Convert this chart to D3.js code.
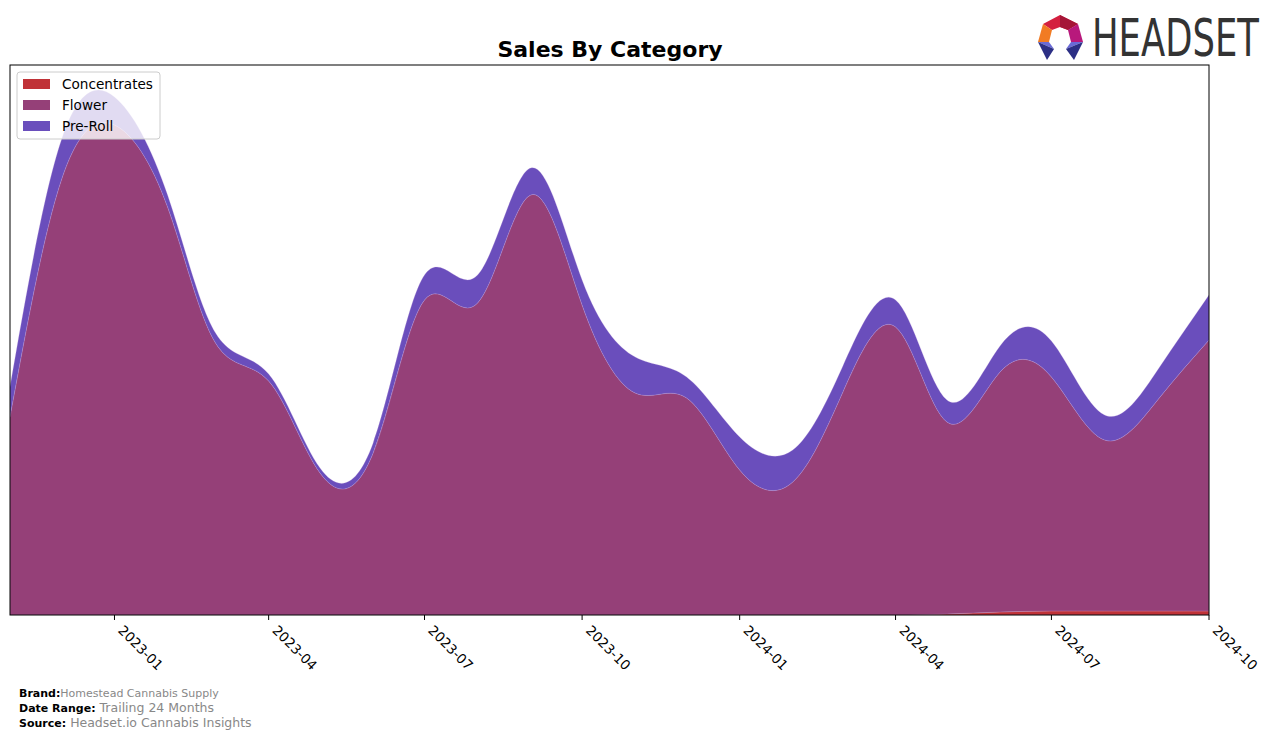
<!DOCTYPE html>
<html>
<head>
<meta charset="utf-8">
<script src="https://cdn.jsdelivr.net/npm/d3@7"></script>
<style>
  body { margin: 0; background: #fff; }
  text { font-family: "DejaVu Sans", sans-serif; }
</style>
</head>
<body>
<div id="chart"></div>
<script>
// monthly data
const months = ["2022-11","2022-12","2023-01","2023-02","2023-03","2023-04","2023-05","2023-06",
  "2023-07","2023-08","2023-09","2023-10","2023-11","2023-12","2024-01","2024-02",
  "2024-03","2024-04","2024-05","2024-06","2024-07","2024-08","2024-09","2024-10"];
const concentrates = [0,0,0,0,0,0,0,0, 0,0,0,0,0,0,0,0, 0,0,50,150,200,200,200,200];
const flower = [9900,21750,24500,20400,13600,11700,7100,8100, 15750,15600,21000,15500,11100,10850,7250,6650,
  11100,14400,9600,12000,11700,8550,10550,13550];
const preRoll = [1500,2000,1400,600,500,350,250,500, 1250,1400,1350,1250,1800,1050,1650,1600,
  1300,1350,1100,1300,1800,1250,1500,2250];
const tickLabels = ["2023-01","2023-04","2023-07","2023-10","2024-01","2024-04","2024-07","2024-10"];

const categories = ["Concentrates", "Flower", "Pre-Roll"];
const colors = {"Concentrates": "#c03237", "Flower": "#954078", "Pre-Roll": "#6a4ebc"};

// set the dimensions of the page and plot area
const W = 1276, H = 740;
const plot = {left: 10, top: 65, right: 1209, bottom: 615};

const parse = d3.timeParse("%Y-%m");
const data = months.map((m, i) => ({
  date: parse(m),
  "Concentrates": concentrates[i],
  "Flower": flower[i],
  "Pre-Roll": preRoll[i]
}));

const svg = d3.select("#chart").append("svg")
  .attr("width", W).attr("height", H);

const x = d3.scaleTime()
  .domain(d3.extent(data, d => d.date))
  .range([plot.left, plot.right]);
const y = d3.scaleLinear()
  .domain([0, 27500])
  .range([plot.bottom, plot.top]);

const series = d3.stack().keys(categories)(data);

svg.append("defs").append("clipPath")
  .attr("id", "clip")
  .append("rect")
    .attr("x", plot.left).attr("y", plot.top)
    .attr("width", plot.right - plot.left)
    .attr("height", plot.bottom - plot.top);

const area = d3.area()
  .curve(d3.curveNatural)
  .x(d => x(d.data.date))
  .y0(d => y(d[0]))
  .y1(d => y(d[1]));

svg.append("g")
  .attr("clip-path", "url(#clip)")
  .selectAll("path")
  .data(series)
  .join("path")
    .attr("d", area)
    .attr("fill", d => colors[d.key])
    .attr("stroke", "#c9a6e0")
    .attr("stroke-width", 0.4)
    .attr("stroke-opacity", 0.6);

// frame
svg.append("rect")
  .attr("x", plot.left).attr("y", plot.top)
  .attr("width", plot.right - plot.left)
  .attr("height", plot.bottom - plot.top)
  .attr("fill", "none")
  .attr("stroke", "#000")
  .attr("stroke-width", 1);

// x axis
const tickDates = tickLabels.map(parse);
const xAxis = svg.append("g");
xAxis.selectAll("line")
  .data(tickDates)
  .join("line")
    .attr("x1", d => x(d)).attr("x2", d => x(d))
    .attr("y1", plot.bottom).attr("y2", plot.bottom + 5)
    .attr("stroke", "#000");
xAxis.selectAll("text")
  .data(tickDates)
  .join("text")
    .attr("transform", d => `translate(${x(d) + 10},${plot.bottom + 9}) rotate(45)`)
    .attr("dy", "0.75em")
    .attr("font-size", 13.5)
    .attr("fill", "#000")
    .text(d => d3.timeFormat("%Y-%m")(d));

// title
svg.append("text")
  .attr("x", 610).attr("y", 57)
  .attr("text-anchor", "middle")
  .attr("font-size", 22)
  .attr("font-weight", "bold")
  .text("Sales By Category");

// legend
const legend = svg.append("g").attr("transform", "translate(17,72)");
legend.append("rect")
  .attr("width", 143).attr("height", 67)
  .attr("rx", 3)
  .attr("fill", "#fff").attr("fill-opacity", 0.8)
  .attr("stroke", "#ccc");
categories.forEach((c, i) => {
  legend.append("rect")
    .attr("x", 6).attr("y", 7 + i * 21)
    .attr("width", 27).attr("height", 10)
    .attr("fill", colors[c]);
  legend.append("text")
    .attr("x", 45).attr("y", 17 + i * 21)
    .attr("font-size", 13.6)
    .text(c);
});

// footer
const foot = [
  {label: "Brand:", value: "Homestead Cannabis Supply", y: 697, size: 11},
  {label: "Date Range:", value: "Trailing 24 Months", y: 712, size: 12.5},
  {label: "Source:", value: "Headset.io Cannabis Insights", y: 727, size: 12.5}
];
foot.forEach(f => {
  const t = svg.append("text").attr("x", 19).attr("y", f.y);
  t.append("tspan").attr("font-size", 11).attr("font-weight", "bold").attr("fill", "#000").text(f.label);
  t.append("tspan").attr("font-size", f.size).attr("fill", "#888").attr("dx", f.size > 11 ? 4 : 0).text(f.value);
});

// logo
const logo = svg.append("g");
const pieces = [
  {p: [[1043,24],[1060,15],[1078,24],[1068,30],[1060,27],[1052,30]], c: "#d4203f"},
  {p: [[1060,15],[1078,24],[1068,30],[1060,27]], c: "#a51637"},
  {p: [[1078,24],[1083,42],[1071,42],[1068,30]], c: "#b8197c"},
  {p: [[1043,24],[1052,30],[1049,42],[1038,42]], c: "#f17b23"},
  {p: [[1038,42],[1049,42],[1054,49]], c: "#6a6ad6"},
  {p: [[1038,42],[1054,49],[1047,60]], c: "#2c2f85"},
  {p: [[1083,42],[1071,42],[1066,49]], c: "#6a6ad6"},
  {p: [[1083,42],[1066,49],[1074,60]], c: "#2c2f85"}
];
logo.selectAll("polygon")
  .data(pieces)
  .join("polygon")
    .attr("points", d => d.p.map(q => q.join(",")).join(" "))
    .attr("fill", d => d.c);
// squeeze the wordmark to the logo's width with a scale instead of textLength
const word = logo.append("text")
  .attr("x", 0).attr("y", 0)
  .attr("font-family", "'DejaVu Sans Condensed', 'DejaVu Sans', sans-serif")
  .attr("font-size", 52)
  .attr("fill", "#333")
  .text("HEADSET");
const natural = word.node().getComputedTextLength();
word.attr("transform", `translate(1092,56) scale(${167 / natural},1)`);
</script>
</body>
</html>
